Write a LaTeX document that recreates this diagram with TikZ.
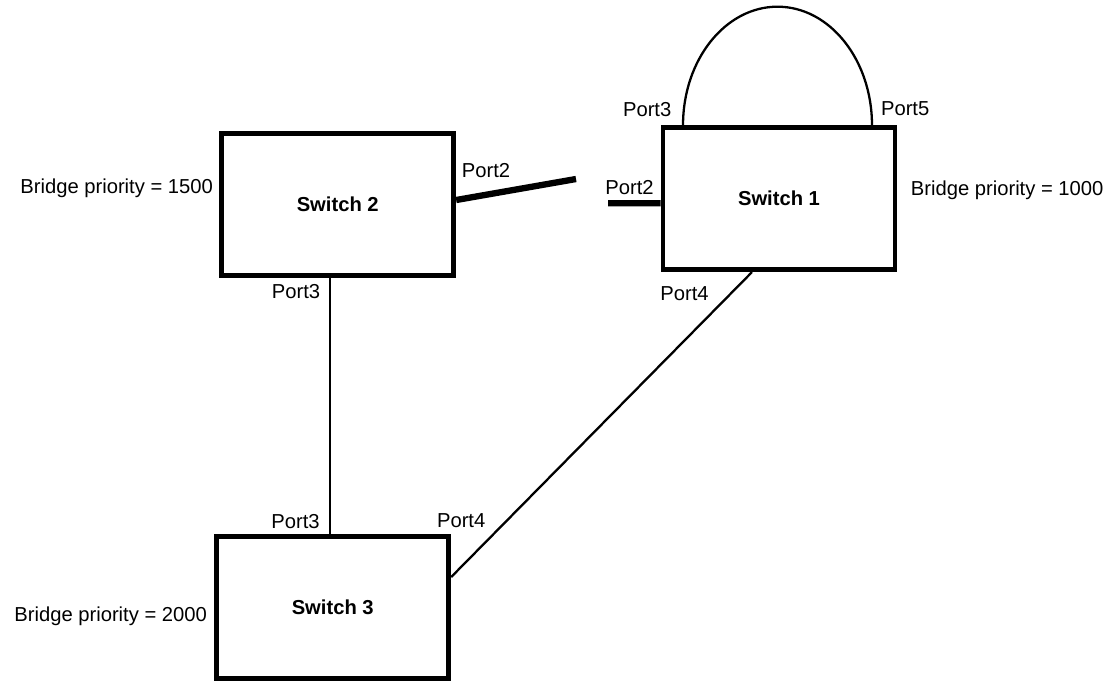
\documentclass[tikz,border=0pt]{standalone}
\usepackage{fontspec}
\setmainfont{Liberation Sans}
\usepackage{tikz}
\usetikzlibrary{positioning}

\begin{document}
\begin{tikzpicture}[x=0.02cm, y=-0.02cm, every node/.style={font=\fontsize{11.5}{13}\selectfont}]
\tikzstyle{sw}=[draw, line width=2.8pt, minimum width=4.64cm, minimum height=2.84cm, font=\fontsize{11.5}{13}\selectfont\bfseries]
\tikzstyle{lbl}=[anchor=base west, inner sep=0pt]
\tikzstyle{link}=[line width=1.3pt]
\tikzstyle{trunk}=[line width=3.6pt]
\useasboundingbox (0,0) rectangle (1116,681);
% switches
\node[sw] (s2) at (337.75,204.25) {Switch 2};
\node[sw] (s1) at (779,198.6) {Switch 1};
\node[sw] (s3) at (332.75,607.5) {Switch 3};
% priorities
\node[lbl] (bp2) at (20,193) {Bridge priority = 1500};
\node[lbl] (bp1) at (910.5,195) {Bridge priority = 1000};
\node[lbl] (bp3) at (14,621.5) {Bridge priority = 2000};
% ports
\node[lbl] (s2p2) at (461.5,177) {Port2};
\node[lbl] (s2p3) at (271.5,298.3) {Port3};
\node[lbl] (s1p2) at (605,194) {Port2};
\node[lbl] (s1p3) at (622.7,116.7) {Port3};
\node[lbl] (s1p5) at (880.7,115) {Port5};
\node[lbl] (s1p4) at (660,300) {Port4};
\node[lbl] (s3p3) at (271,528.3) {Port3};
\node[lbl] (s3p4) at (436.7,527.3) {Port4};
% links
\coordinate (g2) at (576,179);
\coordinate (g1) at (608,203.3);
\draw[trunk] ([yshift=0.085cm]s2.east) -- (g2);
\draw[trunk] (g1) -- ([yshift=-0.094cm]s1.west);
\draw[link] ([xshift=-0.155cm]s2.south) -- ([xshift=-0.155cm]s2.south |- s3.north);
\draw[link] ([xshift=-0.54cm]s1.south) -- ([yshift=0.61cm]s3.east);
\draw[link] ([xshift=-1.92cm]s1.north) arc[start angle=180, end angle=0, x radius=1.89cm, y radius=2.37cm];
\end{tikzpicture}
\end{document}
